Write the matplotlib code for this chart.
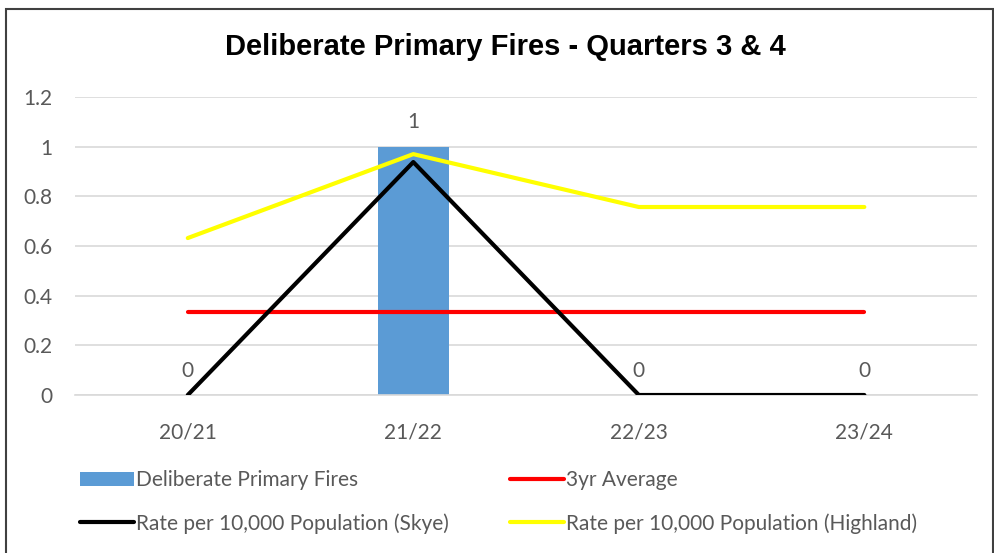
import numpy as np
import matplotlib
matplotlib.use("Agg")
import matplotlib.pyplot as plt
from matplotlib.patches import Rectangle

# ---------------------------- Chart data ----------------------------- #
years = ["20/21", "21/22", "22/23", "23/24"]
fires = [0, 1, 0, 0]
avg_3yr = [0.333, 0.333, 0.333, 0.333]
rate_skye = [0, 0.938, 0, 0]
rate_highland = [0.632, 0.970, 0.757, 0.757]

text_col = "#595959"
body_font = "Lato"
fsize = 15

fig = plt.figure(figsize=(9.95, 5.53), dpi=100)
ax = fig.add_axes([0.0754, 0.2857, 0.9066, 0.5389])

x = np.arange(len(years))

# Bars and lines
bars = ax.bar(x, fires, width=0.315, color="#5B9BD5", zorder=2,
              label="Deliberate Primary Fires")
l_skye, = ax.plot(x, rate_skye, color="black", lw=3, solid_capstyle="round",
                  zorder=4, label="Rate per 10,000 Population (Skye)")
l_avg, = ax.plot(x, avg_3yr, color="#FF0000", lw=3, solid_capstyle="round",
                 zorder=3, label="3yr Average")
l_high, = ax.plot(x, rate_highland, color="#FFFF00", lw=3,
                  solid_capstyle="round", zorder=3,
                  label="Rate per 10,000 Population (Highland)")

# Data labels above bars
for xi, v in zip(x, fires):
    ax.text(xi, v + 0.058, str(v), ha="center", va="bottom", fontsize=fsize,
            color=text_col, family=body_font)

# Axes styling
ax.set_xlim(-0.5, 3.5)
ax.set_ylim(0, 1.2)
ax.set_yticks(np.arange(0, 1.21, 0.2))
ax.set_yticklabels(["0", "0.2", "0.4", "0.6", "0.8", "1", "1.2"])
ax.set_xticks(x)
ax.set_xticklabels(years)
ax.grid(axis="y", color="#D9D9D9", lw=1.2, zorder=0)
ax.set_axisbelow(True)
for s in ["top", "right", "left"]:
    ax.spines[s].set_visible(False)
ax.spines["bottom"].set_color("#D9D9D9")
ax.spines["bottom"].set_linewidth(1.2)
ax.tick_params(axis="both", length=0, labelsize=fsize, colors=text_col)
ax.tick_params(axis="x", pad=20)
ax.tick_params(axis="y", pad=16)
for lbl in ax.get_xticklabels() + ax.get_yticklabels():
    lbl.set_family(body_font)

# Title
fig.text(0.508, 0.915, "Deliberate Primary Fires - Quarters 3 & 4",
         ha="center", va="center", fontsize=21, fontweight="bold",
         family="Liberation Sans")

# Legend
leg = fig.legend(handles=[bars, l_skye, l_avg, l_high], ncol=2,
                 loc="upper left", bbox_to_anchor=(0.072, 0.165),
                 frameon=False, prop={"family": body_font, "size": fsize},
                 handlelength=2.6, handletextpad=0.08, columnspacing=2.95,
                 labelspacing=1.1, borderaxespad=0)
for t in leg.get_texts():
    t.set_color(text_col)

# Outer border
fig.patches.append(Rectangle((0.006, -0.01), 0.992, 0.993,
                             transform=fig.transFigure, fill=False,
                             edgecolor="#404040", lw=1.5))

plt.savefig("out.png", dpi=100)
